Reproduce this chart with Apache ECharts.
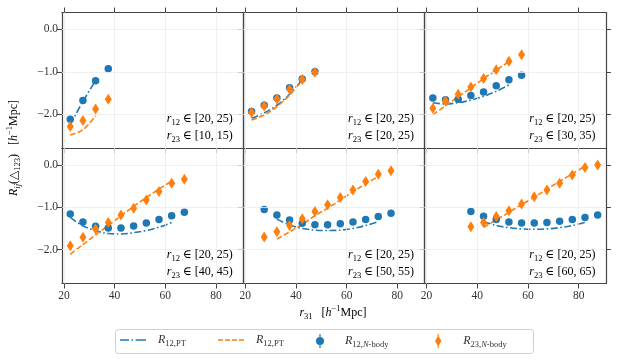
<!DOCTYPE html>
<html>
<head>
<meta charset="utf-8">
<script src="https://cdn.jsdelivr.net/npm/echarts@6/dist/echarts.min.js"></script>
<style>
  html, body { margin: 0; background: #fff; }
  #chart { width: 618px; height: 360px; }
</style>
</head>
<body>
<div id="chart"></div>
<script>
// axis ranges and tick labels
const xMin = 19.25, xMax = 90.75;
const yMin = -2.8, yMax = 0.4;
const xTicks = [20, 40, 60, 80];
const yTicks = [-2, -1, 0];
const r12Bin = '[20, 25)';
const r23Bins = ['[10, 15)', '[20, 25)', '[30, 35)', '[40, 45)', '[50, 55)', '[60, 65)'];

// panel 1 : r23 in [10,15)
const nbR31_1 = [22.5, 27.5, 32.5, 37.5];
const nbR12_1 = [-2.12, -1.68, -1.21, -0.93];
const nbR23_1 = [-2.29, -2.15, -1.88, -1.65];
const ptR31_1 = [22.5, 27.5, 32.5];
const ptR12_1 = [-2.25, -1.70, -1.21];
const ptR23_1 = [-2.49, -2.37, -2.04];

// panel 2 : r23 in [20,25)
const nbR31_2 = [22.5, 27.5, 32.5, 37.5, 42.5, 47.5];
const nbR12_2 = [-1.94, -1.79, -1.62, -1.38, -1.17, -1.00];
const nbR23_2 = [-1.96, -1.81, -1.64, -1.41, -1.18, -1.01];
const ptR31_2 = [22.5, 27.5, 32.5, 37.5, 42.5];
const ptR12_2 = [-2.10, -1.97, -1.79, -1.53, -1.19];
const ptR23_2 = [-2.14, -2.02, -1.82, -1.55, -1.19];

// panel 3 : r23 in [30,35)
const nbR31_3 = [22.5, 27.5, 32.5, 37.5, 42.5, 47.5, 52.5, 57.5];
const nbR12_3 = [-1.62, -1.66, -1.65, -1.56, -1.48, -1.33, -1.19, -1.08];
const nbR23_3 = [-1.86, -1.69, -1.53, -1.36, -1.16, -0.95, -0.75, -0.60];
const ptR31_3 = [22.5, 27.5, 32.5, 37.5, 42.5, 47.5, 52.5];
const ptR12_3 = [-1.73, -1.76, -1.73, -1.67, -1.58, -1.46, -1.31];
const ptR23_3 = [-2.02, -1.80, -1.59, -1.38, -1.16, -0.96, -0.76];

// panel 4 : r23 in [40,45)
const nbR31_4 = [22.5, 27.5, 32.5, 37.5, 42.5, 47.5, 52.5, 57.5, 62.5, 67.5];
const nbR12_4 = [-1.16, -1.35, -1.45, -1.49, -1.49, -1.44, -1.37, -1.29, -1.20, -1.12];
const nbR23_4 = [-1.91, -1.71, -1.51, -1.36, -1.18, -1.02, -0.83, -0.63, -0.43, -0.34];
const ptR31_4 = [22.5, 27.5, 32.5, 37.5, 42.5, 47.5, 52.5, 57.5, 62.5];
const ptR12_4 = [-1.24, -1.44, -1.55, -1.62, -1.63, -1.60, -1.55, -1.47, -1.36];
const ptR23_4 = [-2.11, -1.88, -1.65, -1.43, -1.20, -0.98, -0.77, -0.57, -0.38];

// panel 5 : r23 in [50,55)
const nbR31_5 = [27.5, 32.5, 37.5, 42.5, 47.5, 52.5, 57.5, 62.5, 67.5, 72.5, 77.5];
const nbR12_5 = [-1.05, -1.18, -1.30, -1.38, -1.41, -1.41, -1.39, -1.35, -1.29, -1.22, -1.14];
const nbR23_5 = [-1.70, -1.58, -1.43, -1.27, -1.10, -0.94, -0.77, -0.59, -0.39, -0.22, -0.14];
const ptR31_5 = [32.5, 37.5, 42.5, 47.5, 52.5, 57.5, 62.5, 67.5, 72.5];
const ptR12_5 = [-1.28, -1.42, -1.50, -1.54, -1.55, -1.54, -1.50, -1.43, -1.34];
const ptR23_5 = [-1.75, -1.58, -1.40, -1.20, -1.02, -0.83, -0.63, -0.45, -0.27];

// panel 6 : r23 in [60,65)
const nbR31_6 = [37.5, 42.5, 47.5, 52.5, 57.5, 62.5, 67.5, 72.5, 77.5, 82.5, 87.5];
const nbR12_6 = [-1.10, -1.21, -1.29, -1.35, -1.37, -1.37, -1.36, -1.33, -1.29, -1.24, -1.18];
const nbR23_6 = [-1.46, -1.36, -1.22, -1.08, -0.92, -0.75, -0.59, -0.43, -0.24, -0.06, 0.00];
const ptR31_6 = [42.5, 47.5, 52.5, 57.5, 62.5, 67.5, 72.5, 77.5, 82.5];
const ptR12_6 = [-1.34, -1.43, -1.48, -1.51, -1.52, -1.51, -1.48, -1.43, -1.36];
const ptR23_6 = [-1.47, -1.30, -1.12, -0.94, -0.76, -0.57, -0.39, -0.21, -0.03];

const panels = [
  { nbR31: nbR31_1, nbR12: nbR12_1, nbR23: nbR23_1, ptR31: ptR31_1, ptR12: ptR12_1, ptR23: ptR23_1 },
  { nbR31: nbR31_2, nbR12: nbR12_2, nbR23: nbR23_2, ptR31: ptR31_2, ptR12: ptR12_2, ptR23: ptR23_2 },
  { nbR31: nbR31_3, nbR12: nbR12_3, nbR23: nbR23_3, ptR31: ptR31_3, ptR12: ptR12_3, ptR23: ptR23_3 },
  { nbR31: nbR31_4, nbR12: nbR12_4, nbR23: nbR23_4, ptR31: ptR31_4, ptR12: ptR12_4, ptR23: ptR23_4 },
  { nbR31: nbR31_5, nbR12: nbR12_5, nbR23: nbR23_5, ptR31: ptR31_5, ptR12: ptR12_5, ptR23: ptR23_5 },
  { nbR31: nbR31_6, nbR12: nbR12_6, nbR23: nbR23_6, ptR31: ptR31_6, ptR12: ptR12_6, ptR23: ptR23_6 }
];

const BLUE = '#1f77b4';
const ORANGE = '#ff7f0e';
const SERIF = "'Liberation Serif', 'DejaVu Serif', serif";
const TXT = '#333333';
const SPINE = '#444444';
const GRIDC = '#ececec';

// layout of the 2x3 panels
const L0 = 62, PW = 181.3, T0 = 12.5, PH = 135.5;

const zip = (xs, ys) => xs.map((x, k) => [x, ys[k]]);
const fmtY = v => (v < 0 ? '\u2212' : '') + Math.abs(v).toFixed(1);

const mathRich = {
  i: { fontFamily: SERIF, fontStyle: 'italic', fontSize: 12, color: TXT, lineHeight: 17 },
  n: { fontFamily: SERIF, fontSize: 12, color: TXT, lineHeight: 17 },
  s: { fontFamily: SERIF, fontSize: 8.5, color: TXT, verticalAlign: 'bottom' },
  si: { fontFamily: SERIF, fontStyle: 'italic', fontSize: 8.5, color: TXT, verticalAlign: 'bottom' },
  sup: { fontFamily: SERIF, fontSize: 8.5, color: TXT, verticalAlign: 'top' }
};

const grids = [], xAxes = [], xTopAxes = [], yAxes = [], yRightAxes = [], notes = [];
panels.forEach((p, i) => {
  const row = Math.floor(i / 3), col = i % 3;
  const left = L0 + col * PW, top = T0 + row * PH;
  grids.push({ left: left, top: top, width: PW, height: PH, containLabel: false });

  const common = {
    gridIndex: i, type: 'value', min: xMin, max: xMax,
    axisLine: { show: true, onZero: false, lineStyle: { color: SPINE, width: 1.2 } },
    splitLine: { show: false }
  };
  xAxes.push(Object.assign({}, common, {
    position: 'bottom',
    axisTick: { show: true, inside: false, length: 5, customValues: xTicks, lineStyle: { color: SPINE, width: 1 } },
    axisLabel: { show: row === 1, customValues: xTicks, margin: 6, fontFamily: SERIF, fontSize: 11.5, color: TXT }
  }));
  xTopAxes.push(Object.assign({}, common, {
    position: 'top',
    axisTick: { show: row === 0, inside: false, length: 5, customValues: xTicks, lineStyle: { color: SPINE, width: 1 } },
    axisLabel: { show: false }
  }));
  const ycommon = {
    gridIndex: i, type: 'value', min: yMin, max: yMax,
    axisLine: { show: true, onZero: false, lineStyle: { color: SPINE, width: 1.2 } },
    splitLine: { show: false }
  };
  yAxes.push(Object.assign({}, ycommon, {
    position: 'left',
    axisTick: { show: true, inside: false, length: 5, customValues: yTicks, lineStyle: { color: SPINE, width: 1 } },
    axisLabel: { show: col === 0, customValues: yTicks, formatter: fmtY, margin: 4, fontFamily: SERIF, fontSize: 11.5, color: TXT }
  }));
  yRightAxes.push(Object.assign({}, ycommon, {
    position: 'right',
    axisTick: { show: col === 2, inside: false, length: 5, customValues: yTicks, lineStyle: { color: SPINE, width: 1 } },
    axisLabel: { show: false }
  }));

  // bin annotation in the lower right corner of each panel
  notes.push({
    type: 'text', x: left + PW - 10.5, y: top + PH - 3.5, z: 10,
    style: {
      text: '{i|r}{s|12}{n| \u2208 ' + r12Bin + '}\n{i|r}{s|23}{n| \u2208 ' + r23Bins[i] + '}',
      rich: mathRich, align: 'right', verticalAlign: 'bottom'
    }
  });
});

const gridLines = {
  silent: true,
  symbol: ['none', 'none'],
  label: { show: false },
  lineStyle: { color: GRIDC, width: 0.8, type: 'solid' },
  emphasis: { disabled: true },
  data: xTicks.map(v => ({ xAxis: v })).concat(yTicks.map(v => ({ yAxis: v })))
};

const thinDiamond = 'path://M0,-10 L6,0 L0,10 L-6,0 Z';
const series = [];
panels.forEach((p, i) => {
  series.push({
    name: 'R12PT', type: 'line', xAxisIndex: i, yAxisIndex: i,
    data: zip(p.ptR31, p.ptR12), smooth: 0.35, symbol: 'none',
    lineStyle: { color: BLUE, width: 1.6, type: [7, 2.5, 1.6, 2.5] },
    itemStyle: { color: BLUE },
    markLine: gridLines, z: 2
  });
  series.push({
    name: 'R23PT', type: 'line', xAxisIndex: i, yAxisIndex: i,
    data: zip(p.ptR31, p.ptR23), smooth: 0.35, symbol: 'none',
    lineStyle: { color: ORANGE, width: 1.6, type: [5.5, 2.4] },
    itemStyle: { color: ORANGE }, z: 3
  });
  series.push({
    name: 'R12NB', type: 'scatter', xAxisIndex: i, yAxisIndex: i,
    data: zip(p.nbR31, p.nbR12), symbol: 'circle', symbolSize: 7.5,
    itemStyle: { color: BLUE, opacity: 1 }, z: 4
  });
  series.push({
    name: 'R23NB', type: 'scatter', xAxisIndex: i, yAxisIndex: i,
    data: zip(p.nbR31, p.nbR23), symbol: thinDiamond, symbolSize: [7, 11],
    itemStyle: { color: ORANGE, opacity: 1 }, z: 5
  });
});

const legendNames = {
  R12PT: '{i|R}{s|12,PT}',
  R23PT: '{i|R}{s|12,PT}',
  R12NB: '{i|R}{s|12,}{si|N}{s|-body}',
  R23NB: '{i|R}{s|23,}{si|N}{s|-body}'
};
const dashDotIcon = 'path://M0,0 L9,0 L9,1.6 L0,1.6 Z M11.5,0 L13.1,0 L13.1,1.6 L11.5,1.6 Z M15.6,0 L26,0 L26,1.6 L15.6,1.6 Z';
const dashIcon = 'path://M0,0 L5,0 L5,1.6 L0,1.6 Z M7,0 L12,0 L12,1.6 L7,1.6 Z M14,0 L19,0 L19,1.6 L14,1.6 Z M21,0 L26,0 L26,1.6 L21,1.6 Z';
const circleBar = 'path://M0,7 A4,4 0 1,1 8,7 A4,4 0 1,1 0,7 Z M3.4,0 L4.6,0 L4.6,14 L3.4,14 Z';
const diamondBar = 'path://M4,1.5 L7.2,7 L4,12.5 L0.8,7 Z M3.4,0 L4.6,0 L4.6,14 L3.4,14 Z';
const legendSpec = [
  { name: 'R12PT', left: 120, icon: dashDotIcon },
  { name: 'R23PT', left: 218, icon: dashIcon },
  { name: 'R12NB', left: 316, icon: circleBar },
  { name: 'R23NB', left: 435, icon: diamondBar }
];
const legends = legendSpec.map(s => ({
  data: [{ name: s.name, icon: s.icon }],
  left: s.left, top: 334, padding: 0,
  itemWidth: 26, itemHeight: 14,
  selectedMode: false,
  formatter: n => legendNames[n],
  textStyle: { fontFamily: SERIF, fontSize: 12, color: TXT, padding: [0, 0, 0, 7], rich: mathRich }
}));

const chart = echarts.init(document.getElementById('chart'), null, { renderer: 'canvas' });
chart.setOption({
  animation: false,
  backgroundColor: '#fff',
  grid: grids,
  xAxis: xAxes.concat(xTopAxes),
  yAxis: yAxes.concat(yRightAxes),
  legend: legends,
  series: series,
  graphic: [
    {
      type: 'rect', left: 115, top: 329, z: -1,
      shape: { width: 418, height: 24, r: 3 },
      style: { fill: '#fff', stroke: '#d0d0d0', lineWidth: 1 }
    },
    {
      type: 'text', x: 14, y: 148, rotation: Math.PI / 2,
      style: {
        text: '{i|R}{si|ij}{n|(\u25B3}{s|123}{n|)   [}{i|h}{sup|\u22121}{n|Mpc]}',
        rich: mathRich, align: 'center', verticalAlign: 'middle'
      }
    },
    {
      type: 'text', x: 333, y: 313,
      style: {
        text: '{i|r}{s|31}{n|   [}{i|h}{sup|\u22121}{n|Mpc]}',
        rich: mathRich, align: 'center', verticalAlign: 'middle'
      }
    }
  ].concat(notes)
});
</script>
</body>
</html>
